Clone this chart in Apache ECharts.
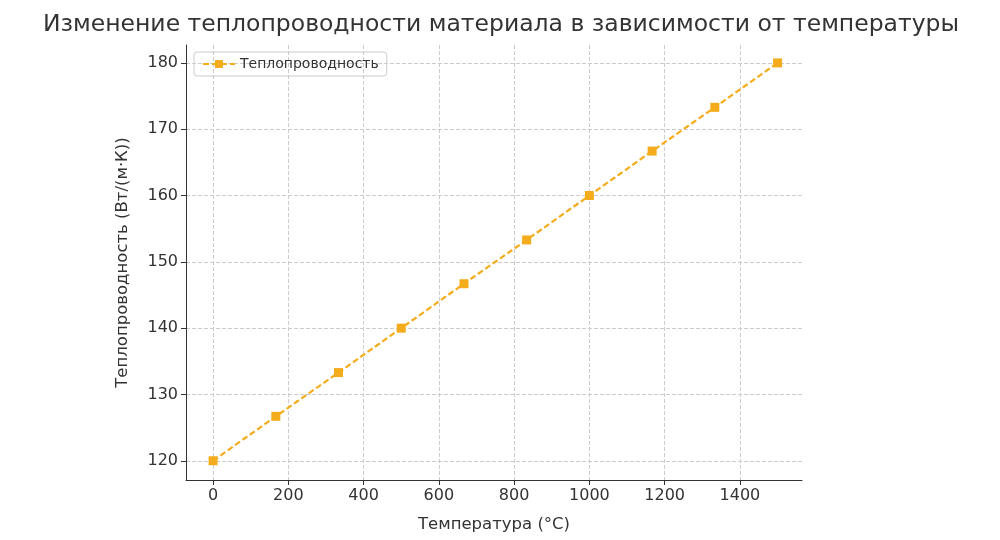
<!DOCTYPE html>
<html><head><meta charset="utf-8">
<script src="https://cdn.jsdelivr.net/npm/echarts@6/dist/echarts.min.js"></script>
<style>html,body{margin:0;background:#fff}#c{width:1000px;height:540px}</style>
</head><body><div id="c"></div>
<script>
const temps = [0, 166.7, 333.3, 500, 666.7, 833.3, 1000, 1166.7, 1333.3, 1500];
const conductivity = [120, 126.7, 133.3, 140, 146.7, 153.3, 160, 166.7, 173.3, 180];
const xTicks = [0, 200, 400, 600, 800, 1000, 1200, 1400];
const yTicks = [120, 130, 140, 150, 160, 170, 180];
const font = 'DejaVu Sans';
const chart = echarts.init(document.getElementById('c'));
chart.setOption({
  animation: false,
  textStyle: {fontFamily: font},
  title: {text: 'Изменение теплопроводности материала в зависимости от температуры', left: 496, top: 8, textAlign: 'center',
    textStyle: {fontFamily: font, fontSize: 23.5, fontWeight: 'normal', color: '#333'}},
  legend: {left: 194, top: 52, orient: 'vertical', borderColor: '#ccc', borderWidth: 1, borderRadius: 3, padding: [5, 8],
    itemWidth: 32, itemHeight: 10, textStyle: {fontFamily: font, fontSize: 14, color: '#333'}},
  grid: {left: 186, right: 198, top: 45, bottom: 60},
  xAxis: {type: 'value', min: -72, max: 1565,
    name: 'Температура (°C)', nameLocation: 'middle', nameGap: 36, nameTextStyle: {fontSize: 16.5, color: '#333', fontFamily: font},
    axisLine: {show: true, onZero: false, lineStyle: {color: '#333'}},
    axisTick: {show: true, customValues: xTicks, length: 5, lineStyle: {color: '#333'}},
    axisLabel: {customValues: xTicks, fontSize: 16, color: '#333', margin: 8, formatter: v => String(v)},
    splitLine: {show: true, lineStyle: {type: 'dashed', color: '#ccc'}}},
  yAxis: {type: 'value', min: 117.1, max: 182.7,
    name: 'Теплопроводность (Вт/(м·К))', nameLocation: 'middle', nameGap: 55, nameTextStyle: {fontSize: 16.5, color: '#333', fontFamily: font},
    axisLine: {show: true, onZero: false, lineStyle: {color: '#333'}},
    axisTick: {show: true, customValues: yTicks, length: 5, lineStyle: {color: '#333'}},
    axisLabel: {customValues: yTicks, fontSize: 16, color: '#333', margin: 8, formatter: v => String(v)},
    splitLine: {show: true, lineStyle: {type: 'dashed', color: '#ccc'}}},
  series: [{name: 'Теплопроводность', type: 'line', data: temps.map((t, i) => [t, conductivity[i]]),
    symbol: 'rect', symbolSize: 9, itemStyle: {color: '#f5ac1c'},
    lineStyle: {color: '#f5ac1c', width: 2.2, type: [6, 3]}}]
});
</script></body></html>
